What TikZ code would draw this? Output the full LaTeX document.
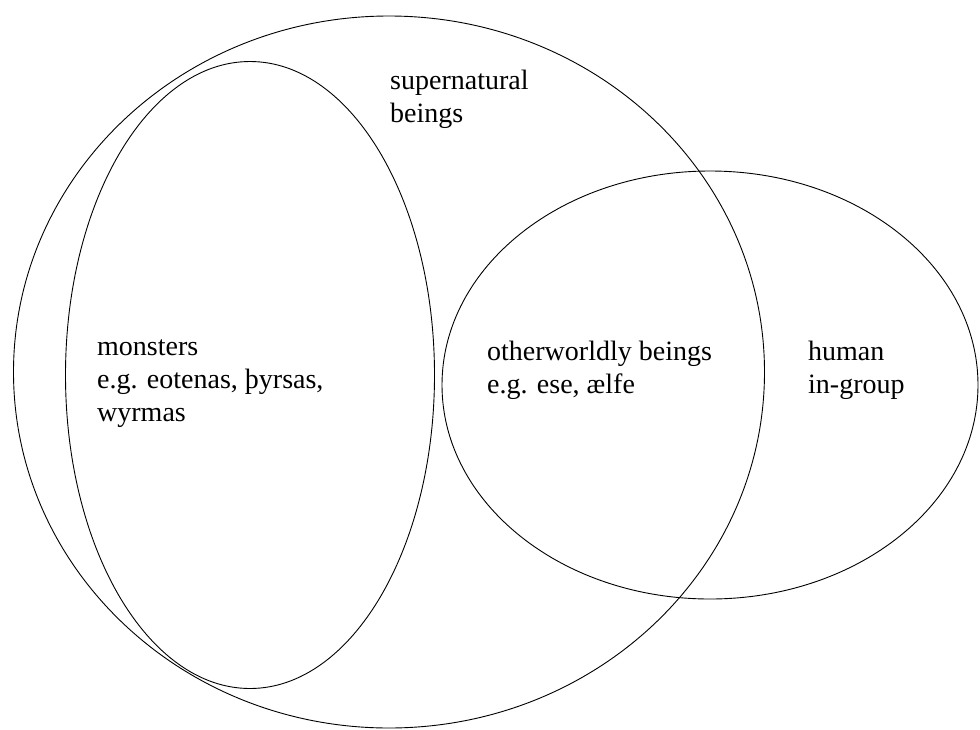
\documentclass[tikz,border=0pt]{standalone}
\usepackage{fontspec}
\setmainfont{Liberation Serif}
\usetikzlibrary{shapes.geometric}

\begin{document}
\begin{tikzpicture}[x=1pt, y=-1pt,
    set/.style={ellipse, draw, line width=0.9pt, inner sep=0pt},
    label/.style={anchor=base west, align=left, inner sep=0pt, font=\fontsize{28}{33}\selectfont}]

    \useasboundingbox (0,0) rectangle (980,729);

    \node [set, minimum width=751pt, minimum height=712pt] (beings) at (389,372) {};
    \node [set, minimum width=369pt, minimum height=627pt] (monsters) at (250,375) {};
    \node [set, minimum width=536pt, minimum height=428pt] (humans) at (710,385) {};

    \node [label] (beingsText) at (390,122) {supernatural\\beings};
    \node [label] (monstersText) at (97,421) {monsters\\e.g. eotenas, þyrsas,\\wyrmas};
    \node [label] (otherText) at (487,393) {otherworldly beings\\e.g. ese, ælfe};
    \node [label] (humansText) at (808,393) {human\\in-group};
\end{tikzpicture}
\end{document}
